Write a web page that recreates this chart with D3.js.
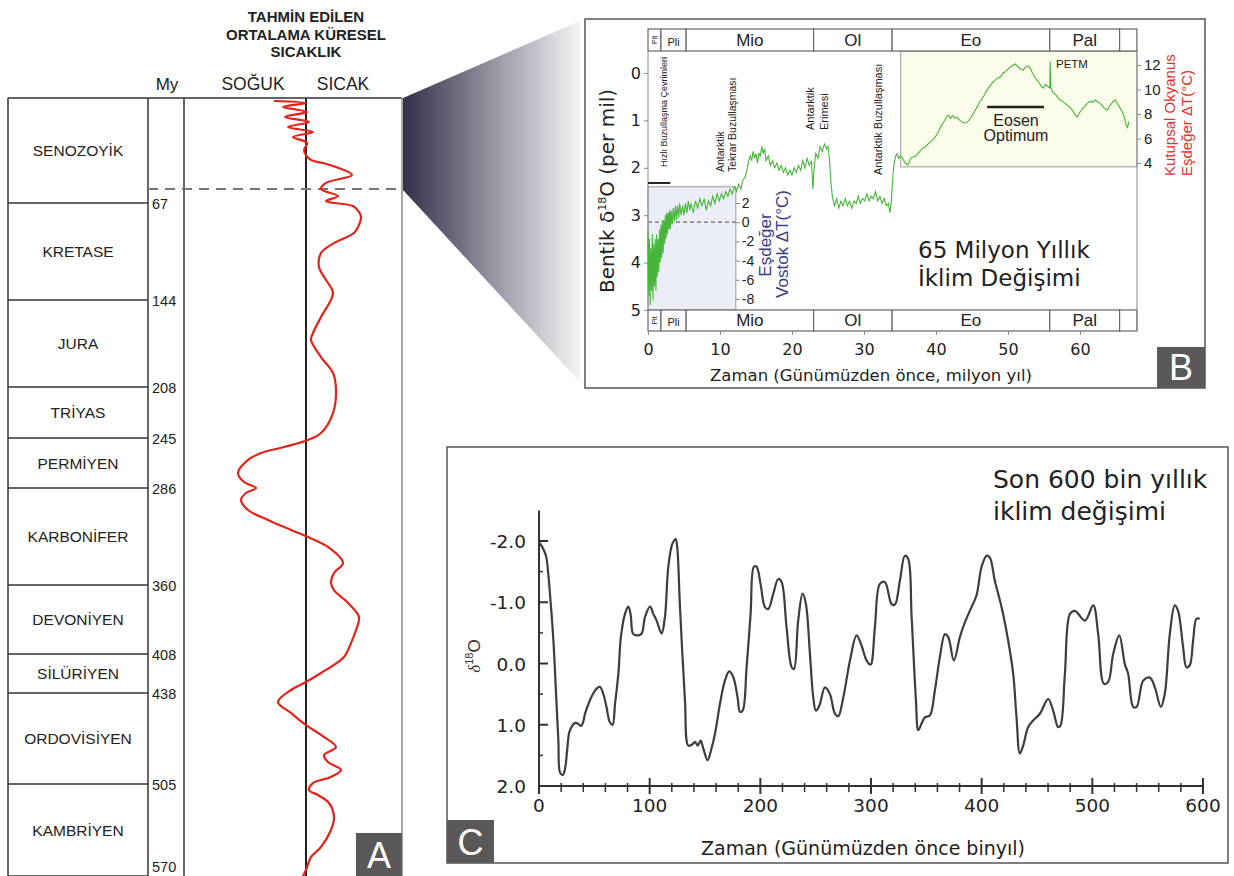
<!DOCTYPE html>
<html>
<head>
<meta charset="utf-8">
<script src="https://cdn.jsdelivr.net/npm/d3@7"></script>
<style>
  body { margin: 0; background: #fff; }
  text { font-family: "Liberation Sans", Arial, sans-serif; fill: #222; }
  .wide { font-family: "DejaVu Sans", Verdana, sans-serif; }
</style>
</head>
<body>
<svg id="chart" width="1234" height="876"></svg>
<script>
// ---------------- data ----------------

// Panel A: geological eras and estimated mean global temperature
const eraNames = ["SENOZOYİK","KRETASE","JURA","TRİYAS","PERMİYEN","KARBONİFER","DEVONİYEN","SİLÜRİYEN","ORDOVİSİYEN","KAMBRİYEN"];
const eraBounds = [0, 67, 144, 208, 245, 286, 360, 408, 438, 505, 570];
const titleA = ["TAHMİN EDİLEN", "ORTALAMA KÜRESEL", "SICAKLIK"];
// [My, relative temperature]
const tempA = [
  [1.9,-1.6],[3.2,0.0],[5.7,-1.15],[8.9,0.05],[12.1,-1.05],[15.3,0.15],[18.5,-0.9],[21.7,0.35],[24.9,-0.65],
  [28.7,0.05],[33.2,-0.1],[36.4,0.0],[39.6,0.25],[41.5,0.85],[44,1.5],[49.1,2.3],[54.2,1.0],[58.1,0.75],
  [62.6,1.6],[65.8,1.0],[69.4,2.35],[74.1,2.65],[78.1,2.75],[86.1,2.6],[90.8,2.4],[98.8,1.4],[106.7,0.75],
  [117.8,0.65],[128.1,1.0],[138.5,1.35],[156.5,0.75],[168.3,0.35],[173.4,0.25],[186,0.75],[197.7,1.35],[210.2,1.5],
  [226.9,1.35],[241.4,0.75],[246.6,0.1],[252.4,-1.1],[257.3,-2.25],[263,-2.9],[273.7,-3.4],[281.1,-3.1],
  [286,-2.5],[289.8,-3.0],[295.2,-3.25],[302.8,-2.9],[310.4,-1.9],[318,-0.75],[323.4,0.1],[331,1.1],
  [343.2,1.85],[350.8,1.4],[358.5,1.25],[363.5,1.4],[372.5,2.1],[382.3,2.65],[391.3,2.5],[400.4,2.25],
  [410.3,1.9],[422.6,0.75],[429.5,0.0],[435.7,-0.75],[444.6,-1.4],[452.7,-0.75],[461.6,0.0],[468.9,0.75],
  [477.8,1.5],[483.6,0.9],[488.8,1.1],[494.7,1.75],[499.8,1.25],[504.3,0.35],[509.2,0.15],[512.8,0.6],
  [518.4,1.15],[528.3,1.4],[537.5,1.25],[549.5,0.75],[556.6,0.25],[565.8,0.0],[570,-0.15]
];
const zoomMarkMy = 58;

// Panel B: benthic δ18O over 65 My
const epochNames = ["Plt","Pli","Mio","Ol","Eo","Pal",""];
const epochBounds = [0, 1.8, 5.3, 23, 33.9, 55.8, 65.5, 67.9];
const ticksB = [0, 10, 20, 30, 40, 50, 60];
const ticksD18 = [0, 1, 2, 3, 4, 5];
const ticksPolar = [4, 6, 8, 10, 12];
const ticksVostok = [-8, -6, -4, -2, 0, 2];
// [age Ma, δ18O per mil]
const benthic = [
  [0,3.3],[0.1,4.7],[0.2,3.5],[0.3,4.9],[0.4,3.7],[0.5,4.6],[0.6,3.4],[0.7,4.8],[0.8,3.6],[0.9,4.5],[1.0,3.5],
  [1.1,4.6],[1.2,3.4],[1.3,4.3],[1.4,3.5],[1.5,4.2],[1.6,3.3],[1.7,4.0],[1.8,3.2],[1.9,3.9],[2.0,3.1],[2.1,3.8],
  [2.2,3.1],[2.3,3.6],[2.4,3.0],[2.5,3.5],[2.6,2.95],[2.7,3.4],[2.8,2.95],[2.9,3.3],[3.0,2.9],[3.1,3.3],[3.2,2.9],
  [3.35,3.2],[3.5,2.85],[3.65,3.15],[3.8,2.8],[3.95,3.1],[4.1,2.8],[4.25,3.05],[4.4,2.75],[4.6,3.0],[4.8,2.8],
  [5.0,3.0],[5.2,2.75],[5.4,2.95],[5.6,2.7],[5.8,2.9],[6.0,2.75],[6.3,2.95],[6.6,2.7],[6.9,2.85],[7.2,2.65],
  [7.5,2.8],[7.8,2.65],[8.1,2.9],[8.4,2.7],[8.7,2.8],[9.0,2.6],[9.3,2.75],[9.6,2.55],[9.9,2.7],[10.2,2.55],
  [10.5,2.65],[10.8,2.5],[11.1,2.6],[11.4,2.45],[11.7,2.55],[12.0,2.4],[12.3,2.5],[12.6,2.35],[12.9,2.45],
  [13.2,2.25],[13.5,2.2],[13.8,2.0],[14.0,1.85],[14.2,1.75],[14.4,1.85],[14.6,1.65],[14.8,1.8],[15.0,1.7],
  [15.2,1.9],[15.4,1.7],[15.6,1.75],[15.8,1.55],[16.0,1.7],[16.2,1.6],[16.4,1.85],[16.7,1.75],[17.0,1.95],
  [17.3,1.85],[17.6,2.0],[17.9,1.9],[18.2,2.05],[18.5,1.95],[18.8,2.1],[19.1,2.0],[19.4,2.15],[19.7,2.05],
  [20.0,2.15],[20.3,2.0],[20.6,2.1],[20.9,1.95],[21.2,2.05],[21.5,1.85],[21.8,2.0],[22.1,1.8],[22.4,1.95],
  [22.7,1.85],[22.9,2.45],[23.1,1.95],[23.3,1.7],[23.6,1.8],[23.9,1.55],[24.2,1.65],[24.5,1.5],[24.8,1.6],
  [25.0,1.55],[25.2,1.8],[25.4,2.3],[25.6,2.6],[25.9,2.8],[26.2,2.65],[26.5,2.85],[26.8,2.7],[27.1,2.8],
  [27.4,2.65],[27.7,2.8],[28.0,2.7],[28.3,2.85],[28.6,2.7],[28.9,2.75],[29.2,2.6],[29.5,2.75],[29.8,2.65],
  [30.1,2.7],[30.4,2.55],[30.7,2.7],[31.0,2.6],[31.3,2.65],[31.6,2.5],[31.9,2.7],[32.2,2.6],[32.5,2.75],
  [32.8,2.65],[33.1,2.8],[33.4,2.75],[33.6,2.95],[33.8,2.7],[34.0,2.2],[34.2,1.9],[34.4,1.75],[34.6,1.7],
  [34.8,1.8],[35.0,1.75],[35.3,1.78],[35.7,1.9],[36.1,1.94],[36.5,1.8],[36.8,1.77],[37.2,1.75],[37.6,1.68],
  [38.2,1.58],[38.6,1.55],[39.0,1.48],[39.5,1.42],[39.9,1.35],[40.3,1.25],[40.7,1.12],[41.0,1.05],[41.4,0.95],
  [41.7,0.89],[42.0,0.95],[42.3,0.9],[42.6,0.95],[42.9,0.93],[43.3,1.0],[43.8,1.05],[44.3,1.05],[44.8,0.95],
  [45.2,0.85],[45.7,0.72],[46.1,0.6],[46.5,0.52],[47.1,0.36],[47.6,0.25],[48.0,0.18],[48.5,0.11],[49.0,0.08],
  [49.3,0.0],[49.6,-0.02],[50.0,-0.08],[50.5,-0.15],[51.0,-0.19],[51.4,-0.13],[51.8,-0.08],[52.1,-0.06],
  [52.4,-0.12],[52.8,-0.15],[53.1,-0.1],[53.4,0.0],[53.7,0.08],[54.0,0.15],[54.3,0.2],[54.6,0.28],[54.9,0.32],
  [55.2,0.24],[55.5,0.28],[55.8,0.32],[55.85,-0.25],[55.95,0.3],[56.2,0.4],[56.6,0.45],[57.2,0.57],[57.6,0.6],
  [58.0,0.65],[58.6,0.72],[59.0,0.8],[59.3,0.88],[59.6,0.93],[59.9,0.85],[60.3,0.76],[60.7,0.7],[61.0,0.64],
  [61.4,0.6],[61.8,0.62],[62.1,0.57],[62.4,0.6],[62.8,0.64],[63.1,0.7],[63.5,0.76],[63.8,0.78],[64.2,0.68],
  [64.6,0.6],[64.9,0.57],[65.2,0.65],[65.5,0.72],[65.8,0.8],[66.1,0.9],[66.4,1.1],[66.6,1.15],[66.8,1.02]
];

// Panel C: last 600 kyr δ18O
const ticksC = [0, 100, 200, 300, 400, 500, 600];
const ticksCy = [-2, -1, 0, 1, 2];
// [kyr before present, δ18O]
const recent = [
  [0,-1.98],[3,-1.9],[6.3,-1.76],[8.4,-1.46],[9.9,-1.14],[13,-0.38],[15.4,0.49],[17.5,1.26],[19,1.78],
  [21.4,1.82],[23.5,1.72],[25.5,1.4],[27.4,1.12],[30,1.02],[32.5,0.97],[35,0.98],[38,1.02],[40,0.95],
  [41.6,0.82],[46,0.6],[49,0.49],[52,0.41],[55,0.38],[58,0.49],[61,0.71],[64,0.96],[66.5,1.0],[68.7,0.66],
  [71.7,0.17],[74,-0.43],[77.7,-0.81],[80.7,-0.93],[82.8,-0.8],[85.2,-0.48],[89.7,-0.46],[92.8,-0.49],
  [95.8,-0.76],[100.3,-0.93],[103.3,-0.81],[106.3,-0.7],[110.8,-0.49],[113.8,-0.76],[116.8,-1.57],
  [120.4,-1.95],[123.5,-2.03],[124.9,-1.9],[127.4,-0.92],[131.9,0.6],[134.9,1.34],[138.5,1.32],[141,1.28],
  [143.4,1.34],[146.1,1.26],[148.5,1.39],[152.4,1.58],[155.4,1.42],[159,1.15],[163.5,0.66],[168,0.28],
  [171.9,0.13],[175.5,0.22],[179.4,0.55],[181.6,0.79],[184,0.77],[187.6,0.06],[191.2,-0.81],[194.2,-1.58],
  [196.6,-1.58],[200.2,-1.3],[204.2,-0.92],[207.2,-0.89],[211.7,-1.14],[216.2,-1.38],[219.2,-1.33],
  [223.7,-0.59],[228.3,0.06],[230.4,0.09],[234.2,-0.7],[238.2,-1.14],[241.2,-0.97],[244.8,-0.16],
  [247.8,0.55],[250.2,0.77],[253.3,0.69],[258.4,0.39],[262.9,0.5],[267.4,0.82],[270.4,0.86],[275,0.55],
  [281,-0.05],[287,-0.46],[291.5,-0.29],[296,-0.05],[299.6,0.02],[303.5,-0.59],[308,-1.3],[312.5,-1.33],
  [318.6,-0.97],[321.6,-0.96],[326.1,-1.35],[330.6,-1.76],[333.6,-1.71],[336.7,-0.76],[340.6,0.6],
  [342.7,1.09],[345.7,0.98],[348.7,0.88],[353.2,0.85],[357.7,0.44],[362.2,-0.1],[366.8,-0.48],[369.8,-0.43],
  [374.9,-0.05],[380.3,-0.43],[384.8,-0.67],[389.3,-0.86],[395.3,-1.11],[399.8,-1.57],[404.4,-1.76],
  [407.4,-1.73],[411.9,-1.35],[418,-0.92],[423.9,-0.38],[428.5,0.17],[431.5,0.88],[434.5,1.47],[437.5,1.34],
  [442,1.04],[446.5,0.93],[452.6,0.82],[460.1,0.58],[464.6,0.77],[469.1,1.04],[471.3,1.01],[475.2,0.17],
  [479.8,-0.81],[484.3,-0.86],[493.3,-0.7],[500.8,-0.95],[505.3,-0.48],[510.4,0.33],[514.3,0.3],
  [518.9,-0.16],[524.3,-0.46],[529.4,0.01],[532.4,0.17],[536.9,0.71],[540,0.71],[546,0.28],[552,0.23],
  [556.5,0.39],[561.9,0.71],[565.5,0.49],[570,-0.48],[574.5,-0.95],[577.5,-0.86],[582,-0.27],[585,0.06],
  [588,0.03],[591.1,-0.38],[594.1,-0.73],[597.1,-0.73]
];

// ---------------- drawing ----------------
const svg = d3.select("#chart");
svg.append("rect").attr("width", 1234).attr("height", 876).attr("fill", "#fff");

function vtext(g, x, y, str, size, anchor, color) {
  return g.append("text")
    .attr("transform", "translate(" + x + "," + y + ") rotate(-90)")
    .attr("text-anchor", anchor || "start")
    .style("font-size", size + "px")
    .style("fill", color || "#222")
    .text(str);
}

function letterBox(x, y, w, h, letter) {
  svg.append("rect").attr("x", x).attr("y", y).attr("width", w).attr("height", h).attr("fill", "#5a5858");
  svg.append("text").attr("x", x + w / 2).attr("y", y + h - 8)
    .attr("text-anchor", "middle").style("font-size", "36px").style("fill", "#fff").text(letter);
}

// plain hyphen for negative numbers, as in the original figure
const hyph = f => d => f(d).replace("−", "-");

// ===== Panel A =====
const yA = d3.scaleLinear().domain(eraBounds).range([98, 203, 300, 387, 438, 488, 585, 654, 693, 784, 876]);
const xA = d3.scaleLinear().domain([-6.1, 4.8]).range([184, 402]);
const gA = svg.append("g");

titleA.forEach((t, i) => {
  gA.append("text").attr("x", 306).attr("y", 22 + i * 17.5).attr("text-anchor", "middle")
    .style("font-size", "15px").style("font-weight", "bold").text(t);
});
gA.append("text").attr("x", 167).attr("y", 90).attr("text-anchor", "middle").style("font-size", "17px").text("My");
gA.append("text").attr("x", 253).attr("y", 90).attr("text-anchor", "middle").style("font-size", "17.5px").text("SOĞUK");
gA.append("text").attr("x", 343).attr("y", 90).attr("text-anchor", "middle").style("font-size", "17.5px").text("SICAK");

// frame and columns
gA.append("line").attr("x1", 8).attr("x2", 402).attr("y1", 98).attr("y2", 98).attr("stroke", "#333").attr("stroke-width", 1.5);
[8, 148, 184].forEach(x => {
  gA.append("line").attr("x1", x).attr("x2", x).attr("y1", 98).attr("y2", 876).attr("stroke", "#333").attr("stroke-width", 1.5);
});
gA.append("line").attr("x1", 402).attr("x2", 402).attr("y1", 98).attr("y2", 876).attr("stroke", "#888").attr("stroke-width", 1.5);
gA.append("line").attr("x1", xA(0)).attr("x2", xA(0)).attr("y1", 98).attr("y2", 876).attr("stroke", "#222").attr("stroke-width", 2);

eraBounds.slice(1).forEach((b, i) => {
  gA.append("line").attr("x1", 8).attr("x2", 148).attr("y1", yA(b)).attr("y2", yA(b)).attr("stroke", "#333").attr("stroke-width", 1.5);
  const last = i === eraBounds.length - 2;
  gA.append("text").attr("x", 152).attr("y", last ? yA(b) - 4 : yA(b) + 6).style("font-size", "14.5px").text(b);
});
eraNames.forEach((n, i) => {
  gA.append("text").attr("x", 78).attr("y", (yA(eraBounds[i]) + yA(eraBounds[i + 1])) / 2 + 5.5)
    .attr("text-anchor", "middle").style("font-size", "15.5px").text(n);
});

gA.append("line").attr("x1", 148).attr("x2", 402).attr("y1", yA(zoomMarkMy)).attr("y2", yA(zoomMarkMy))
  .attr("stroke", "#777").attr("stroke-width", 2).attr("stroke-dasharray", "10,7");

gA.append("path").datum(tempA)
  .attr("d", d3.line().x(d => xA(d[1])).y(d => yA(d[0])).curve(d3.curveCatmullRom.alpha(0.5)))
  .attr("fill", "none").attr("stroke", "#e2231a").attr("stroke-width", 2.2);

letterBox(356, 833, 46, 43, "A");

// ===== zoom wedge =====
const grad = svg.append("defs").append("linearGradient").attr("id", "wedge").attr("x1", "0").attr("x2", "1").attr("y1", "0").attr("y2", "0");
grad.append("stop").attr("offset", "0").attr("stop-color", "#33314a");
grad.append("stop").attr("offset", "1").attr("stop-color", "#f4f4f6");
svg.append("polygon").attr("points", "403,98 580,21 580,382 403,190").attr("fill", "url(#wedge)");

// ===== Panel B =====
const xB = d3.scaleLinear().domain([0, 60]).range([648, 1080]);
const yB = d3.scaleLinear().domain([0, 5]).range([73, 310]);
const yPolar = d3.scaleLinear().domain([4, 12]).range([163, 65]);
const yVostok = d3.scaleLinear().domain([-8, 2]).range([299, 203]);
const gB = svg.append("g");

gB.append("rect").attr("x", 585).attr("y", 19).attr("width", 620).attr("height", 369)
  .attr("fill", "#fff").attr("stroke", "#555").attr("stroke-width", 1.5);

// shaded boxes
gB.append("rect").attr("x", xB(35.1)).attr("y", yB(-0.46)).attr("width", xB(67.9) - xB(35.1)).attr("height", yB(1.98) - yB(-0.46))
  .attr("fill", "#fbfcea").attr("stroke", "#999");
gB.append("rect").attr("x", xB(0)).attr("y", yB(2.4)).attr("width", xB(12.2) - xB(0)).attr("height", yB(5) - yB(2.4))
  .attr("fill", "#eceef7").attr("stroke", "#999");
gB.append("line").attr("x1", xB(0)).attr("x2", xB(12.2)).attr("y1", yVostok(0)).attr("y2", yVostok(0))
  .attr("stroke", "#666").attr("stroke-width", 1.2).attr("stroke-dasharray", "4,3");

// epoch bars
[[29, 51], [310, 331]].forEach(([y0, y1]) => {
  epochNames.forEach((n, i) => {
    const x0 = xB(epochBounds[i]), x1 = xB(epochBounds[i + 1]);
    gB.append("rect").attr("x", x0).attr("y", y0).attr("width", x1 - x0).attr("height", y1 - y0)
      .attr("fill", "#fff").attr("stroke", "#666").attr("stroke-width", 1.2);
    if (n === "Plt") {
      vtext(gB, (x0 + x1) / 2 + 2.5, (y0 + y1) / 2, n, 7, "middle");
    } else if (n) {
      gB.append("text").attr("x", (x0 + x1) / 2).attr("y", y1 - 5).attr("text-anchor", "middle")
        .style("font-size", n === "Pli" ? "11px" : "17px").text(n);
    }
  });
});

// axes
gB.append("line").attr("x1", 648).attr("x2", 648).attr("y1", 51).attr("y2", 310).attr("stroke", "#888");
gB.append("line").attr("x1", 1137).attr("x2", 1137).attr("y1", 51).attr("y2", 331).attr("stroke", "#888");

function styleAxis(g, size, wide) {
  g.select(".domain").remove();
  g.selectAll(".tick line").attr("stroke", "#888");
  g.selectAll(".tick text").style("font-size", size + "px").style("fill", "#222")
    .style("font-family", wide ? "'DejaVu Sans', Verdana, sans-serif" : "'Liberation Sans', Arial, sans-serif");
}
gB.append("g").attr("transform", "translate(648,0)")
  .call(d3.axisLeft(yB).tickValues(ticksD18).tickSize(4).tickPadding(3).tickFormat(d3.format("d")))
  .call(g => styleAxis(g, 16, true));
gB.append("g").attr("transform", "translate(1137,0)")
  .call(d3.axisRight(yPolar).tickValues(ticksPolar).tickSize(4).tickPadding(3))
  .call(g => styleAxis(g, 15));
gB.append("g").attr("transform", "translate(" + xB(12.2) + ",0)")
  .call(d3.axisRight(yVostok).tickValues(ticksVostok).tickSize(4).tickPadding(2).tickFormat(hyph(d3.format("d"))))
  .call(g => styleAxis(g, 14));
gB.append("g").attr("transform", "translate(0,331)")
  .call(d3.axisBottom(xB).tickValues(ticksB).tickSize(4).tickPadding(9))
  .call(g => styleAxis(g, 16, true));

// axis titles
const yl = gB.append("text").attr("class", "wide").attr("transform", "translate(614,191) rotate(-90)").attr("text-anchor", "middle").style("font-size", "20px");
yl.append("tspan").text("Bentik δ");
yl.append("tspan").attr("dy", -8).style("font-size", "11px").text("18");
yl.append("tspan").attr("dy", 8).text("O (per mil)");
gB.append("text").attr("class", "wide").attr("x", 871).attr("y", 381).attr("text-anchor", "middle").style("font-size", "16.5px")
  .text("Zaman (Günümüzden önce, milyon yıl)");
vtext(gB, 1175, 176, "Kutupsal Okyanus", 15, "start", "#e0312b");
vtext(gB, 1192, 176, "Eşdeğer ΔT(°C)", 15, "start", "#e0312b");
vtext(gB, 771, 245, "Eşdeğer", 17, "middle", "#3b3a8a");
vtext(gB, 788, 244, "Vostok ΔT(°C)", 17, "middle", "#3b3a8a");

// annotations
vtext(gB, 667, 167, "Hızlı Buzullaşma Çevrimleri", 9, "start");
gB.append("line").attr("x1", xB(0)).attr("x2", xB(3.1)).attr("y1", yB(2.32)).attr("y2", yB(2.32)).attr("stroke", "#222").attr("stroke-width", 2);
vtext(gB, 724, 172, "Antarktik", 10.5, "start");
vtext(gB, 736, 172, "Tekrar Buzullaşması", 10.5, "start");
vtext(gB, 814, 130, "Antarktik", 11, "start");
vtext(gB, 828, 130, "Erimesi", 11, "start");
vtext(gB, 882, 175, "Antarktik Buzullaşması", 11, "start");
gB.append("text").attr("x", 1056).attr("y", 68).style("font-size", "11.5px").text("PETM");
gB.append("line").attr("x1", xB(47.1)).attr("x2", xB(55)).attr("y1", 107).attr("y2", 107).attr("stroke", "#222").attr("stroke-width", 2.5);
gB.append("text").attr("x", 1016).attr("y", 126).attr("text-anchor", "middle").style("font-size", "16px").text("Eosen");
gB.append("text").attr("x", 1016).attr("y", 141).attr("text-anchor", "middle").style("font-size", "16px").text("Optimum");
gB.append("text").attr("class", "wide").attr("x", 918).attr("y", 258).style("font-size", "23px").text("65 Milyon Yıllık");
gB.append("text").attr("class", "wide").attr("x", 918).attr("y", 286).style("font-size", "23px").text("İklim Değişimi");

gB.append("path").datum(benthic)
  .attr("d", d3.line().x(d => xB(d[0])).y(d => yB(d[1])))
  .attr("fill", "none").attr("stroke", "#46b53a").attr("stroke-width", 1.1);

letterBox(1157, 347, 48, 41, "B");

// ===== Panel C =====
const xC = d3.scaleLinear().domain([0, 600]).range([539, 1203]);
const yC = d3.scaleLinear().domain([-2, 2]).range([541, 786]);
const gC = svg.append("g");

gC.append("rect").attr("x", 447).attr("y", 447).attr("width", 781).attr("height", 416)
  .attr("fill", "#fff").attr("stroke", "#555").attr("stroke-width", 1.5);

gC.append("line").attr("x1", xC(0)).attr("x2", xC(600)).attr("y1", yC(2)).attr("y2", yC(2)).attr("stroke", "#333").attr("stroke-width", 2);
gC.append("line").attr("x1", xC(0)).attr("x2", xC(0)).attr("y1", yC(-2.5)).attr("y2", yC(2)).attr("stroke", "#333").attr("stroke-width", 2);

d3.range(20, 600, 20).filter(v => v % 100 !== 0).forEach(v => {
  gC.append("line").attr("x1", xC(v)).attr("x2", xC(v)).attr("y1", yC(2) - 3).attr("y2", yC(2) + 6).attr("stroke", "#333").attr("stroke-width", 1.5);
});
ticksC.forEach(v => {
  gC.append("line").attr("x1", xC(v)).attr("x2", xC(v)).attr("y1", yC(2) - 8).attr("y2", yC(2) + 8).attr("stroke", "#333").attr("stroke-width", 2);
  gC.append("text").attr("class", "wide").attr("x", xC(v)).attr("y", 812).attr("text-anchor", "middle").style("font-size", "18.5px").text(v);
});
[-1.5, -0.5, 0.5, 1.5].forEach(v => {
  gC.append("line").attr("x1", xC(0)).attr("x2", xC(0) + 4).attr("y1", yC(v)).attr("y2", yC(v)).attr("stroke", "#333").attr("stroke-width", 1.5);
});
ticksCy.forEach(v => {
  gC.append("line").attr("x1", xC(0)).attr("x2", xC(0) + 9).attr("y1", yC(v)).attr("y2", yC(v)).attr("stroke", "#333").attr("stroke-width", 2);
  gC.append("text").attr("class", "wide").attr("x", 526).attr("y", yC(v) + 7).attr("text-anchor", "end").style("font-size", "18.5px")
    .text(hyph(d3.format(".1f"))(v));
});

const cl = gC.append("text").attr("transform", "translate(480,656) rotate(-90)").attr("text-anchor", "middle").style("font-size", "17px").style("fill", "#333");
cl.append("tspan").style("font-style", "italic").style("font-family", "'Liberation Serif', serif").text("δ");
cl.append("tspan").attr("dy", -7).style("font-size", "11px").text("18");
cl.append("tspan").attr("dy", 7).text("O");

gC.append("text").attr("class", "wide").attr("x", 863).attr("y", 855).attr("text-anchor", "middle").style("font-size", "19px").text("Zaman (Günümüzden önce binyıl)");
gC.append("text").attr("class", "wide").attr("x", 993).attr("y", 488).style("font-size", "25px").text("Son 600 bin yıllık");
gC.append("text").attr("class", "wide").attr("x", 993).attr("y", 520).style("font-size", "25px").text("iklim değişimi");

gC.append("path").datum(recent)
  .attr("d", d3.line().x(d => xC(d[0])).y(d => yC(d[1])).curve(d3.curveCatmullRom.alpha(0.5)))
  .attr("fill", "none").attr("stroke", "#3d3d3d").attr("stroke-width", 2.2);

letterBox(447, 820, 47, 43, "C");
</script>
</body>
</html>
